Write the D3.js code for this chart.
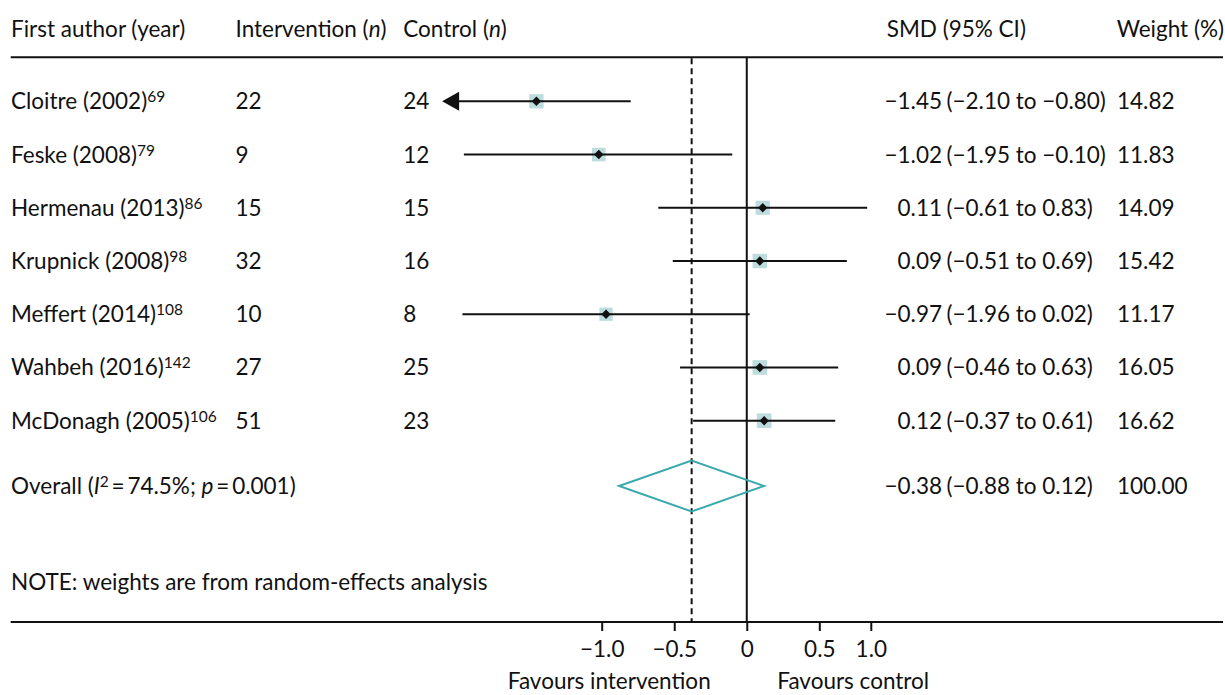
<!DOCTYPE html>
<html>
<head>
<meta charset="utf-8">
<script src="https://cdn.jsdelivr.net/npm/d3@7"></script>
<style>
  html, body { margin: 0; padding: 0; background: #fff; }
  svg { display: block; }
  text { font-family: Lato, "Open Sans", sans-serif; fill: #111; }
</style>
</head>
<body>
<svg id="chart" width="1225" height="695"></svg>
<script>
// ---------- data ----------
const authors = ["Cloitre (2002)", "Feske (2008)", "Hermenau (2013)", "Krupnick (2008)", "Meffert (2014)", "Wahbeh (2016)", "McDonagh (2005)"];
const refs = ["69", "79", "86", "98", "108", "142", "106"];
const nIntervention = [22, 9, 15, 32, 10, 27, 51];
const nControl = [24, 12, 15, 16, 8, 25, 23];
const smd = [-1.45, -1.02, 0.11, 0.09, -0.97, 0.09, 0.12];
const ciLow = [-2.10, -1.95, -0.61, -0.51, -1.96, -0.46, -0.37];
const ciHigh = [-0.80, -0.10, 0.83, 0.69, 0.02, 0.63, 0.61];
const weights = [14.82, 11.83, 14.09, 15.42, 11.17, 16.05, 16.62];
const overall = { smd: -0.38, low: -0.88, high: 0.12, weight: 100.00, i2: "74.5%", p: "0.001" };
const tickValues = [-1.0, -0.5, 0, 0.5, 0.855];
const tickLabels = ["\u22121.0", "\u22120.5", "0", "0.5", "1.0"];
const headers = ["First author (year)", "Intervention (n)", "Control (n)", "SMD (95% CI)", "Weight (%)"];
const noteText = "NOTE: weights are from random-effects analysis";
const favours = ["Favours intervention", "Favours control"];
const plotMin = -2.0;

// ---------- layout ----------
const W = 1225, H = 695;
const FS = 22.5;
const SUP = 15.5;
const svg = d3.select("#chart");
const x = d3.scaleLinear().domain([-1, 0.5]).range([601.7, 819.3]);
const y = d3.scaleLinear().domain([0, 6]).range([101.3, 420.7]);
const overallY = 486;
const topLineY = 57.3, axisY = 622;
const lineX0 = 10.7, lineX1 = 1223;
const col = { author: 11, inter: 235.5, ctrl: 403.3, estEnd: 942, ciStart: 946.5, weight: 1117 };
const size = d3.scalePow().exponent(0.25).domain([0, d3.max(weights)]).range([0, 14.7]);
const f2 = d3.format(".2f");
const fm = v => f2(v).replace("-", "\u2212");

// header
const hdrY = 36.7;
const hdr = svg.append("g").attr("font-size", FS);
hdr.append("text").attr("x", col.author).attr("y", hdrY).text(headers[0]);
function withItalicN(t, xpos) {
  const parts = t.split("n)");
  const el = hdr.append("text").attr("x", xpos).attr("y", hdrY);
  el.append("tspan").text(parts[0]);
  el.append("tspan").attr("font-style", "italic").text("n");
  el.append("tspan").text(")");
}
withItalicN(headers[1], col.inter);
withItalicN(headers[2], col.ctrl);
hdr.append("text").attr("x", 886.7).attr("y", hdrY).text(headers[3]);
hdr.append("text").attr("x", 1116.7).attr("y", hdrY).text(headers[4]);

// rules
svg.append("line").attr("x1", lineX0).attr("x2", lineX1).attr("y1", topLineY).attr("y2", topLineY)
  .attr("stroke", "#111").attr("stroke-width", 2);
svg.append("line").attr("x1", lineX0).attr("x2", lineX1).attr("y1", axisY).attr("y2", axisY)
  .attr("stroke", "#111").attr("stroke-width", 2);

// zero line and overall dashed line
svg.append("line").attr("x1", x(0)).attr("x2", x(0)).attr("y1", topLineY).attr("y2", axisY)
  .attr("stroke", "#111").attr("stroke-width", 2);
svg.append("line").attr("x1", x(overall.smd)).attr("x2", x(overall.smd)).attr("y1", topLineY + 1).attr("y2", axisY)
  .attr("stroke", "#111").attr("stroke-width", 2).attr("stroke-dasharray", "6,4");

// study rows
const rows = authors.map((a, i) => ({ a, ref: refs[i], ni: nIntervention[i], nc: nControl[i], est: smd[i], lo: ciLow[i], hi: ciHigh[i], w: weights[i], i }));
const g = svg.append("g").attr("font-size", FS);
rows.forEach(r => {
  const yy = y(r.i);
  const tb = yy + 8;
  const t = g.append("text").attr("x", col.author).attr("y", tb);
  t.append("tspan").text(r.a);
  t.append("tspan").attr("font-size", SUP).attr("dy", -7).text(r.ref);
  g.append("text").attr("x", col.inter).attr("y", tb).text(r.ni);
  g.append("text").attr("x", col.ctrl).attr("y", tb).text(r.nc);
  g.append("text").attr("x", col.estEnd).attr("y", tb).attr("text-anchor", "end").text(fm(r.est));
  g.append("text").attr("x", col.ciStart).attr("y", tb).text(`(${fm(r.lo)} to ${fm(r.hi)})`);
  g.append("text").attr("x", col.weight).attr("y", tb).text(f2(r.w));

  // weight square
  const s = size(r.w);
  g.append("rect").attr("x", x(r.est) - s / 2).attr("y", yy - s / 2).attr("width", s).attr("height", s)
    .attr("fill", "#bcdcdd");
  // CI line
  if (r.lo < plotMin) {
    const tip = x(r.lo);
    g.append("line").attr("x1", tip + 15).attr("x2", x(r.hi)).attr("y1", yy).attr("y2", yy)
      .attr("stroke", "#111").attr("stroke-width", 2);
    g.append("path").attr("d", `M${tip},${yy} L${tip + 17},${yy - 9.5} L${tip + 17},${yy + 9.5} Z`).attr("fill", "#111");
  } else {
    g.append("line").attr("x1", x(r.lo)).attr("x2", x(r.hi)).attr("y1", yy).attr("y2", yy)
      .attr("stroke", "#111").attr("stroke-width", 2);
  }
  // point estimate diamond
  const d = 4.7, cx = x(r.est);
  g.append("path").attr("d", `M${cx - d},${yy} L${cx},${yy - d} L${cx + d},${yy} L${cx},${yy + d} Z`).attr("fill", "#111");
});

// overall row
const ob = overallY + 7.5;
const ot = g.append("text").attr("x", col.author).attr("y", ob);
ot.append("tspan").text("Overall (");
ot.append("tspan").attr("font-style", "italic").text("I");
ot.append("tspan").attr("font-size", SUP).attr("dy", -7).text("2");
ot.append("tspan").attr("dy", 7).text("\u2009=\u200974.5%; ");
ot.append("tspan").attr("font-style", "italic").text("p");
ot.append("tspan").text("\u2009=\u20090.001)");
g.append("text").attr("x", col.estEnd).attr("y", ob).attr("text-anchor", "end").text(fm(overall.smd));
g.append("text").attr("x", col.ciStart).attr("y", ob).text(`(${fm(overall.low)} to ${fm(overall.high)})`);
g.append("text").attr("x", col.weight).attr("y", ob).text(f2(overall.weight));
const dh = 25.5;
g.append("path")
  .attr("d", `M${x(overall.low)},${overallY} L${x(overall.smd)},${overallY - dh} L${x(overall.high)},${overallY} L${x(overall.smd)},${overallY + dh} Z`)
  .attr("fill", "none").attr("stroke", "#3aa9ad").attr("stroke-width", 2);

// note
g.append("text").attr("x", col.author).attr("y", 590).text(noteText);

// axis
const axis = d3.axisBottom(x).tickValues(tickValues).tickFormat((d, i) => tickLabels[i]).tickSize(9).tickPadding(10);
const ax = svg.append("g").attr("transform", `translate(0,${axisY})`).call(axis);
ax.select(".domain").remove();
ax.selectAll(".tick line").attr("stroke", "#111").attr("stroke-width", 2);
ax.selectAll(".tick text").attr("font-size", FS).attr("font-family", "Lato, sans-serif").attr("fill", "#111");

// favours labels
g.append("text").attr("x", 710.7).attr("y", 689).attr("text-anchor", "end").text(favours[0]);
g.append("text").attr("x", 777.3).attr("y", 689).text(favours[1]);
</script>
</body>
</html>
